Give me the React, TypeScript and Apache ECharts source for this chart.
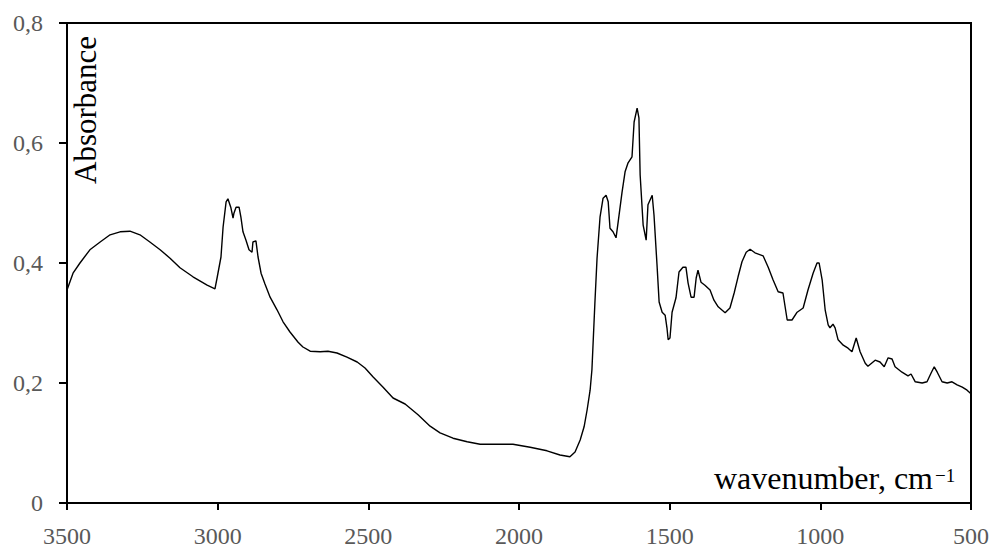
import React, { useEffect, useRef } from "react";
import * as echarts from "echarts";

const wavenumbers: number[] = [
  3500, 3480, 3457, 3424, 3390, 3357, 3324, 3291, 3258, 3225, 3191, 3158, 3125, 3082, 3035, 3009,
  3002, 2989, 2982, 2972, 2966, 2956, 2949, 2946, 2939, 2929, 2923, 2916, 2906, 2896, 2886, 2883,
  2873, 2866, 2856, 2843, 2826, 2803, 2783, 2760, 2733, 2717, 2693, 2660, 2634, 2604, 2571, 2537,
  2511, 2484, 2451, 2418, 2378, 2335, 2295, 2262, 2219, 2172, 2129, 2073, 2020, 1963, 1907, 1864,
  1831, 1814, 1797, 1784, 1774, 1764, 1758, 1748, 1741, 1731, 1721, 1711, 1704, 1698, 1688, 1678,
  1671, 1658, 1648, 1638, 1625, 1618, 1608, 1602, 1598, 1588, 1578, 1572, 1558, 1552, 1542, 1535,
  1525, 1515, 1509, 1505, 1499, 1492, 1479, 1469, 1456, 1446, 1439, 1429, 1419, 1412, 1406, 1396,
  1383, 1366, 1353, 1339, 1316, 1300, 1286, 1273, 1260, 1246, 1233, 1217, 1190, 1173, 1157, 1140,
  1124, 1110, 1094, 1077, 1057, 1041, 1024, 1011, 1004, 994, 984, 974, 968, 958, 951, 941,
  924, 908, 895, 881, 868, 851, 842, 818, 802, 788, 775, 762, 752, 729, 709, 699,
  685, 662, 646, 632, 622, 612, 596, 579, 563, 546, 529, 513, 502,
];

const absorbance: number[] = [
  0.355, 0.383, 0.4, 0.422, 0.435, 0.447, 0.452, 0.453, 0.447, 0.435, 0.422, 0.408, 0.392, 0.377, 0.363, 0.357,
  0.375, 0.41, 0.46, 0.502, 0.507, 0.492, 0.475, 0.483, 0.493, 0.493, 0.477, 0.452, 0.438, 0.422, 0.418, 0.435,
  0.437, 0.41, 0.383, 0.365, 0.343, 0.322, 0.302, 0.285, 0.268, 0.26, 0.253, 0.252, 0.253, 0.25, 0.243, 0.235,
  0.225, 0.21, 0.193, 0.175, 0.165, 0.147, 0.128, 0.117, 0.108, 0.102, 0.098, 0.098, 0.098, 0.093, 0.087, 0.08,
  0.077, 0.085, 0.105, 0.127, 0.155, 0.188, 0.222, 0.335, 0.408, 0.477, 0.508, 0.513, 0.502, 0.458, 0.452, 0.442,
  0.468, 0.518, 0.552, 0.567, 0.577, 0.635, 0.658, 0.642, 0.547, 0.463, 0.438, 0.497, 0.513, 0.48, 0.397, 0.335,
  0.318, 0.313, 0.292, 0.272, 0.275, 0.318, 0.342, 0.385, 0.393, 0.393, 0.367, 0.343, 0.343, 0.375, 0.388, 0.368,
  0.363, 0.355, 0.338, 0.327, 0.317, 0.325, 0.35, 0.377, 0.402, 0.418, 0.423, 0.417, 0.412, 0.393, 0.372, 0.352,
  0.35, 0.305, 0.305, 0.318, 0.325, 0.355, 0.383, 0.4, 0.4, 0.372, 0.322, 0.297, 0.292, 0.298, 0.292, 0.272,
  0.263, 0.258, 0.252, 0.275, 0.252, 0.233, 0.228, 0.238, 0.235, 0.227, 0.242, 0.24, 0.227, 0.218, 0.212, 0.215,
  0.202, 0.2, 0.202, 0.217, 0.227, 0.218, 0.202, 0.2, 0.202, 0.197, 0.193, 0.188, 0.183,
];

const xTicks = { min: 500, max: 3500, interval: 500 };
const yTicks = { min: 0, max: 0.8, interval: 0.2 };
const yTitle = "Absorbance";
const xTitle = "wavenumber, cm";
const xTitleSup = "\u22121";

const FONT = "'Liberation Serif', 'DejaVu Serif', serif";

export default function App() {
  const ref = useRef<HTMLDivElement>(null);
  useEffect(() => {
    if (!ref.current) return;
    const chart = echarts.init(ref.current, undefined, { renderer: "svg" });
    const data = wavenumbers.map((w, i) => [w, absorbance[i]]);
    chart.setOption({
      animation: false,
      backgroundColor: "#fff",
      grid: {
        left: 67,
        right: 23,
        top: 23,
        bottom: 49,
        show: true,
        borderColor: "#000",
        borderWidth: 2,
        backgroundColor: "transparent",
      },
      xAxis: {
        type: "value",
        inverse: true,
        min: xTicks.min,
        max: xTicks.max,
        interval: xTicks.interval,
        axisLine: { show: true, onZero: false, lineStyle: { color: "#000", width: 2 } },
        axisTick: { show: true, inside: false, length: 7, lineStyle: { color: "#000", width: 2 } },
        splitLine: { show: false },
        axisLabel: {
          color: "#595959",
          fontFamily: FONT,
          fontSize: 24,
          margin: 21,
          formatter: (v: number) => String(v),
        },
      },
      yAxis: {
        type: "value",
        min: yTicks.min,
        max: yTicks.max,
        interval: yTicks.interval,
        axisLine: { show: true, lineStyle: { color: "#000", width: 2 } },
        axisTick: { show: true, inside: false, length: 8, lineStyle: { color: "#000", width: 2 } },
        splitLine: { show: false },
        axisLabel: {
          color: "#595959",
          fontFamily: FONT,
          fontSize: 24,
          margin: 24,
          formatter: (v: number) => (v === 0 ? "0" : v.toFixed(1).replace(".", ",")),
        },
      },
      graphic: [
        {
          type: "text",
          x: 85,
          y: 184,
          rotation: Math.PI / 2,
          style: {
            text: yTitle,
            fill: "#000",
            font: `31px ${FONT}`,
            textAlign: "left",
            textVerticalAlign: "middle",
          },
        },
        {
          type: "text",
          x: 933,
          y: 494,
          style: {
            text: xTitle,
            fill: "#000",
            font: `32px ${FONT}`,
            textAlign: "right",
            textVerticalAlign: "bottom",
          },
        },
        {
          type: "text",
          x: 935,
          y: 475,
          style: {
            text: xTitleSup,
            fill: "#000",
            font: `19px ${FONT}`,
            textAlign: "left",
            textVerticalAlign: "middle",
          },
        },
      ],
      series: [
        {
          type: "line",
          data,
          showSymbol: false,
          symbol: "none",
          lineStyle: { color: "#000", width: 1.4 },
        },
      ],
    });
    return () => chart.dispose();
  }, []);
  return (
    <div
      ref={ref}
      style={{ position: "fixed", left: 0, top: 0, width: 994, height: 552, background: "#fff" }}
    />
  );
}
